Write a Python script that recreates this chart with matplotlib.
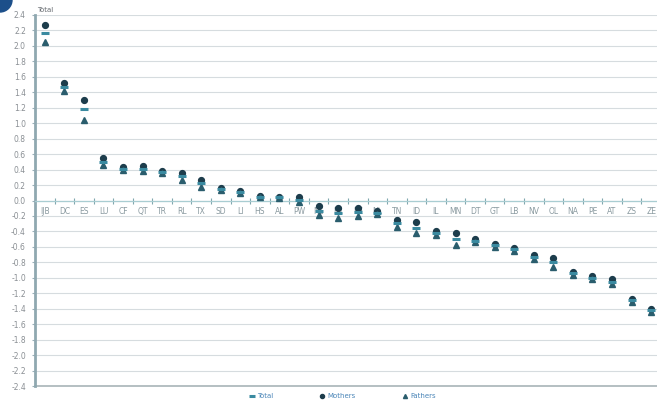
import numpy as np
import matplotlib
matplotlib.use('Agg')
import matplotlib.pyplot as plt
from matplotlib.patches import Ellipse
from matplotlib.ticker import FixedLocator

# 类别与三组数值
categories = ["IJB", "DC", "ES", "LU", "CF", "QT", "TR", "RL", "TX", "SD", "LI",
              "HS", "AL", "PW", "NE", "FR", "BE", "NL", "TN", "ID", "IL", "MN",
              "DT", "GT", "LB", "NV", "OL", "NA", "PE", "AT", "ZS", "ZE"]
total = [2.17, 1.47, 1.18, 0.50, 0.41, 0.41, 0.37, 0.32, 0.22, 0.15, 0.11,
         0.05, 0.04, 0.01, -0.13, -0.16, -0.15, -0.16, -0.29, -0.35, -0.42, -0.50,
         -0.52, -0.58, -0.63, -0.73, -0.80, -0.94, -1.00, -1.05, -1.29, -1.42]
mothers = [2.27, 1.52, 1.30, 0.55, 0.43, 0.44, 0.38, 0.36, 0.26, 0.16, 0.12,
           0.06, 0.05, 0.04, -0.07, -0.10, -0.10, -0.14, -0.25, -0.28, -0.40, -0.42,
           -0.50, -0.56, -0.61, -0.70, -0.75, -0.92, -0.98, -1.02, -1.27, -1.40]
fathers = [2.05, 1.42, 1.04, 0.46, 0.40, 0.38, 0.36, 0.27, 0.18, 0.14, 0.10,
           0.04, 0.03, -0.02, -0.19, -0.22, -0.20, -0.18, -0.34, -0.42, -0.44, -0.58,
           -0.54, -0.60, -0.65, -0.76, -0.86, -0.96, -1.02, -1.08, -1.31, -1.44]
legend_labels = ["Total", "Mothers", "Fathers"]
yticks = [-2.4, -2.2, -2.0, -1.8, -1.6, -1.4, -1.2, -1.0, -0.8, -0.6, -0.4, -0.2, 0.0,
          0.2, 0.4, 0.6, 0.8, 1.0, 1.2, 1.4, 1.6, 1.8, 2.0, 2.2, 2.4]

fig = plt.figure(figsize=(6.57, 4.05), dpi=100)
ax = fig.add_axes([35 / 657, 1 - 386 / 405, 1 - 35 / 657, 371 / 405])

x = np.arange(len(categories))
ax.plot(x, mothers, 'o', ms=4.2, color='#1d3d4c', label=legend_labels[1], zorder=4)
ax.plot(x, fathers, '^', ms=4.2, color='#2a5d6d', label=legend_labels[2], zorder=4)
ax.plot(x, total, '_', ms=5.5, mew=2.2, color='#3a8aa0', label=legend_labels[0], zorder=5)

ax.set_xlim(-0.5, 31.3)
ax.set_ylim(-2.4, 2.4)

# y轴刻度
ax.set_yticks(yticks)
ax.set_yticklabels(['%.1f' % v for v in yticks])
ax.tick_params(axis='y', labelsize=5.5, labelcolor='#8a8f94', length=2.5,
               color='#9ab0b8', pad=4)
ax.grid(axis='y', color='#d6dcdf', lw=0.8)
ax.set_axisbelow(True)

# x轴放在零线位置
ax.spines['bottom'].set_position(('data', 0))
ax.spines['bottom'].set_color('#a9cdd2')
ax.spines['bottom'].set_linewidth(0.9)
ax.spines['top'].set_visible(False)
ax.spines['right'].set_visible(False)
ax.spines['left'].set_color('#8fa8b0')
ax.spines['left'].set_linewidth(2)
ax.axhline(-2.4, color='#a8b4b8', lw=1.2, clip_on=False)

ax.set_xticks(x)
ax.set_xticklabels(categories)
ax.xaxis.set_minor_locator(FixedLocator(x[:-1] + 0.5))
ax.tick_params(axis='x', which='major', length=0, labelsize=5.5,
               labelcolor='#8a9aa0', pad=5)
ax.tick_params(axis='x', which='minor', length=4, direction='inout',
               color='#7fa7ae', width=0.8)

fig.text(37 / 657, 1 - 10 / 405, 'Total', fontsize=5, color='#666b70', va='center')

# 左上角装饰
fig.patches.append(Ellipse((0, 1), 24 / 657, 24 / 405, transform=fig.transFigure,
                           color='#1c4f8a', zorder=10))

handles, labels = ax.get_legend_handles_labels()
order = [2, 0, 1]
fig.legend([handles[i] for i in order], [labels[i] for i in order],
           loc='center', bbox_to_anchor=(342 / 657, 1 - 396 / 405), ncol=3,
           frameon=False, fontsize=5, labelcolor='#4b86b8', columnspacing=6.5,
           handletextpad=0.3, handlelength=1, markerscale=0.7)

fig.savefig('out.png', dpi=100)
